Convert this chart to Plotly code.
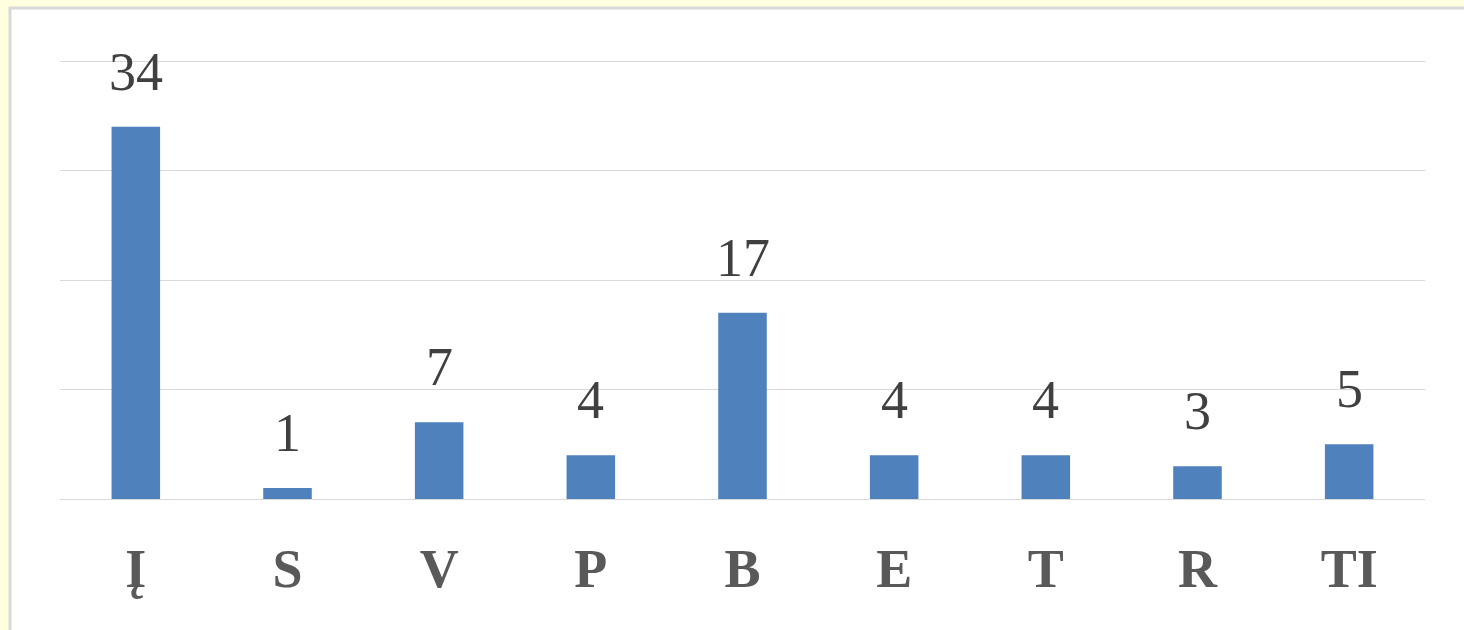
import plotly.graph_objects as go

categories = ["Į", "S", "V", "P", "B", "E", "T", "R", "TI"]
values = [34, 1, 7, 4, 17, 4, 4, 3, 5]

BAR_COLOR = "#4F81BD"
FONT = "Liberation Serif, Times New Roman, serif"

fig = go.Figure()
fig.add_trace(go.Bar(
    x=categories, y=values, marker=dict(color=BAR_COLOR, line=dict(width=0)),
    width=0.32, hoverinfo="skip",
))

annotations = [
    dict(x=c, y=v, xref="x", yref="y", text=str(v), showarrow=False,
         yanchor="bottom", yshift=23,
         font=dict(family=FONT, size=54, color="#404040"))
    for c, v in zip(categories, values)
]

W, H = 1464, 630
L, R, T, B = 60, 39, 55, 131
pw, ph = W - L - R, H - T - B
ymax = ph / 10.95

def px(xp):
    return (xp - L) / pw

def py(yp):
    return (H - B - yp) / ph

fig.update_layout(
    width=W, height=H,
    margin=dict(l=L, r=R, t=T, b=B),
    paper_bgcolor="#FFFFDF",
    plot_bgcolor="rgba(0,0,0,0)",
    showlegend=False,
    annotations=annotations,
    shapes=[dict(type="rect", xref="paper", yref="paper",
                 x0=px(10), x1=px(1480), y0=py(650), y1=py(8),
                 line=dict(color="#D9D9D9", width=3), fillcolor="white",
                 layer="below")],
    xaxis=dict(
        tickfont=dict(family=FONT, size=54, color="#595959", weight="bold"),
        showgrid=False, zeroline=False, showline=False,
        ticks="outside", ticklen=22, tickcolor="rgba(0,0,0,0)",
    ),
    yaxis=dict(
        range=[0, ymax], tickvals=[0, 10, 20, 30, 40], showticklabels=False,
        showgrid=True, gridcolor="#D9D9D9", gridwidth=1,
        zeroline=True, zerolinecolor="#D9D9D9", zerolinewidth=1,
        showline=False, fixedrange=True,
    ),
)

fig.write_html("out.html", config={"displayModeBar": False},
               post_script="document.body.style.margin='0';document.body.style.overflow='hidden';")
